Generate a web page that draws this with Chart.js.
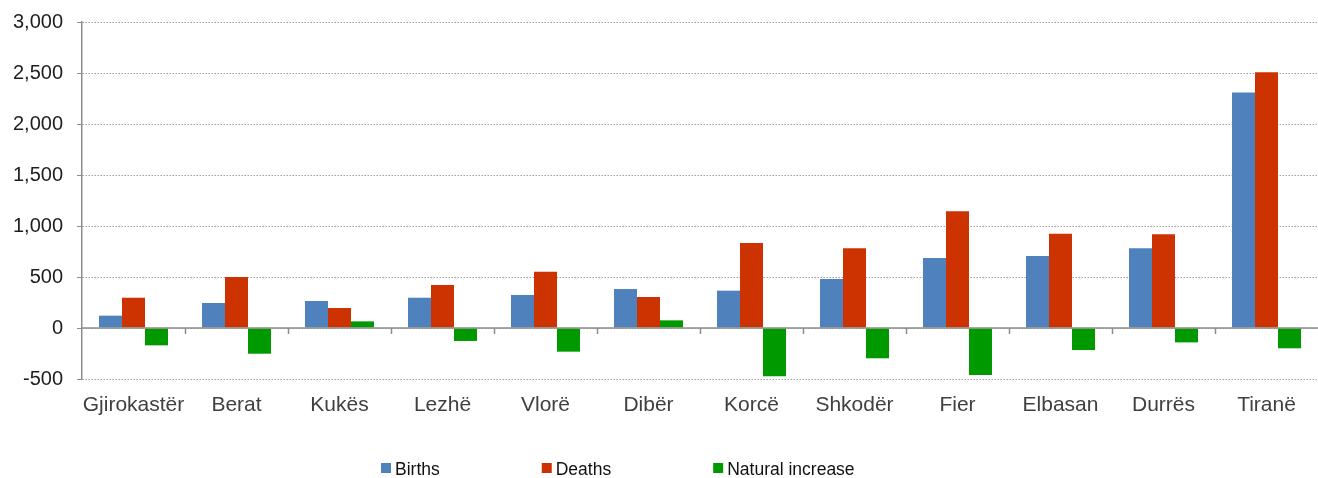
<!DOCTYPE html>
<html><head><meta charset="utf-8">
<script src="https://cdn.jsdelivr.net/npm/chart.js@4.4.0/dist/chart.umd.min.js"></script>
<style>html,body{margin:0;padding:0;background:#fff}</style>
</head><body>
<canvas id="c" width="1318" height="478"></canvas>
<script>
const categories = ['Gjirokastër','Berat','Kukës','Lezhë','Vlorë','Dibër','Korcë','Shkodër','Fier','Elbasan','Durrës','Tiranë'];
const births = [121,245,265,297,324,382,366,480,686,706,781,2310];
const deaths = [297,500,196,422,552,304,833,781,1144,925,918,2507];
const naturalIncrease = [-170,-252,65,-127,-232,75,-474,-297,-461,-216,-141,-199];
const seriesNames = ['Births','Deaths','Natural increase'];
const seriesColors = ['#4F81BD','#CC3300','#009900'];
const yMin = -500, yMax = 3000, yStep = 500;

const FONT = "'Liberation Sans', Arial, sans-serif";

const zeroLinePlugin = {
  id: 'zeroLine',
  afterDatasetsDraw(chart) {
    const {ctx, chartArea, scales: {x, y}} = chart;
    const y0 = y.getPixelForValue(0);
    ctx.save();
    ctx.strokeStyle = '#8c8c8c';
    ctx.lineWidth = 1.5;
    ctx.beginPath();
    ctx.moveTo(chartArea.left, y0);
    ctx.lineTo(chartArea.right, y0);
    ctx.stroke();
    const n = categories.length;
    for (let i = 1; i < n; i++) {
      const xb = (x.getPixelForValue(i - 1) + x.getPixelForValue(i)) / 2;
      ctx.beginPath();
      ctx.moveTo(Math.round(xb) + 0.5, y0);
      ctx.lineTo(Math.round(xb) + 0.5, y0 + 6);
      ctx.stroke();
    }
    ctx.restore();
  }
};

const legendPlugin = {
  id: 'customLegend',
  afterDraw(chart) {
    const {ctx} = chart;
    ctx.save();
    ctx.font = "17.5px " + FONT;
    ctx.textBaseline = 'alphabetic';
    let xPos = 381;
    const boxTop = 463, box = 10, baseline = 475;
    chart.data.datasets.forEach((ds) => {
      ctx.fillStyle = ds.backgroundColor;
      ctx.fillRect(xPos, boxTop, box, box);
      ctx.fillStyle = '#111';
      const tx = xPos + box + 4;
      ctx.fillText(ds.label, tx, baseline);
      xPos = tx + ctx.measureText(ds.label).width + 102;
    });
    ctx.restore();
  }
};

new Chart(document.getElementById('c'), {
  type: 'bar',
  data: {
    labels: categories,
    datasets: [
      {label: seriesNames[0], data: births, backgroundColor: seriesColors[0]},
      {label: seriesNames[1], data: deaths, backgroundColor: seriesColors[1]},
      {label: seriesNames[2], data: naturalIncrease, backgroundColor: seriesColors[2]}
    ]
  },
  options: {
    responsive: false,
    animation: false,
    devicePixelRatio: 1,
    layout: {padding: {top: 22, right: 0, bottom: 0, left: 0}},
    datasets: {bar: {categoryPercentage: 0.67, barPercentage: 1.0, borderWidth: 0}},
    plugins: {legend: {display: false}, tooltip: {enabled: false}},
    scales: {
      x: {
        grid: {display: false, drawTicks: false},
        border: {display: false},
        ticks: {color: '#404040', font: {family: FONT, size: 21}, padding: 14, maxRotation: 0, autoSkip: false},
        afterFit(s) { s.height = 99; s.paddingLeft = 0; s.paddingRight = 0; }
      },
      y: {
        min: yMin, max: yMax,
        ticks: {stepSize: yStep, padding: 14, color: '#1e1e1e', font: {family: FONT, size: 20},
          callback: v => Number(v).toLocaleString('en-US')},
        grid: {color: '#a0a0a0', lineWidth: 1, drawTicks: true, tickLength: 5, tickColor: '#8c8c8c', tickBorderDash: []},
        border: {display: true, color: '#8c8c8c', width: 1.5, dash: [1.5, 1.5]},
        afterFit(s) { s.width = 82; s.paddingTop = 0; s.paddingBottom = 0; }
      }
    }
  },
  plugins: [zeroLinePlugin, legendPlugin]
});
</script>
</body></html>
